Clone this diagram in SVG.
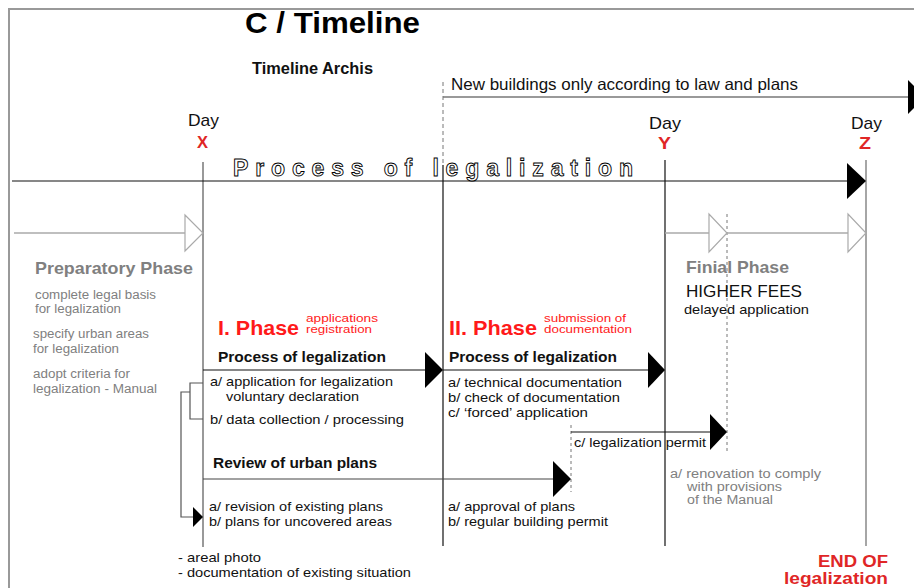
<svg xmlns="http://www.w3.org/2000/svg" width="914" height="588" viewBox="0 0 914 588">
<style>
text{font-family:"Liberation Sans",Arial,sans-serif;}
.b{font-weight:bold;}
.t13{font-size:13px;fill:#111;}
.g12{font-size:12.5px;fill:#808080;}
.gh{font-size:16.5px;font-weight:bold;fill:#808080;}
.red{fill:#ff1a1a;}
.dred{fill:#e02626;}
.h15{font-size:15px;font-weight:bold;fill:#111;}
.day{font-size:17px;fill:#111;}
.sub{font-size:11.5px;}
.ln{stroke:#111;stroke-width:1.2;fill:none;}
.gl{stroke:#777;stroke-width:1.5;fill:none;}
.lg{stroke:#aaa;stroke-width:1.5;fill:none;}
.ds{stroke:#777;stroke-width:1;stroke-dasharray:4,3;fill:none;}
.tri{fill:#000;}
.htri{fill:#fff;stroke:#aaa;stroke-width:1.2;}
</style>
<rect width="914" height="588" fill="#fff"/>
<path d="M9,588 V9 H914" stroke="#999" stroke-width="2" fill="none"/>

<g id="title">
<text x="245" y="33" class="b" font-size="30" textLength="175" lengthAdjust="spacingAndGlyphs" fill="#000">C / Timeline</text>
<text x="252" y="74" class="b" font-size="16" textLength="121" lengthAdjust="spacingAndGlyphs" fill="#111">Timeline Archis</text>
</g>

<g id="connectors">
<line x1="203" y1="162" x2="203" y2="547" stroke="#555" stroke-width="1.2"/>
<line x1="443" y1="82" x2="443" y2="165" class="ds"/>
<line x1="443" y1="165" x2="443" y2="546" class="ln"/>
<line x1="665" y1="160" x2="665" y2="546" class="ln"/>
<line x1="866" y1="160" x2="866" y2="546" stroke="#888" stroke-width="1.5"/>
<line x1="727" y1="214" x2="727" y2="452" stroke="#777" stroke-width="1" stroke-dasharray="3,3"/>
<line x1="571" y1="425" x2="571" y2="492" stroke="#777" stroke-width="1" stroke-dasharray="3,3"/>
<line x1="443" y1="97" x2="908" y2="97" class="gl"/>
<polygon points="908,80 908,114 925,97" class="tri"/>
<line x1="12" y1="181" x2="848" y2="181" class="ln"/>
<polygon points="847,163 847,199 866,181" class="tri"/>
<line x1="14" y1="233" x2="185" y2="233" class="lg"/>
<polygon points="185,215 185,251 203,233" class="htri"/>
<line x1="665" y1="233" x2="710" y2="233" class="lg"/>
<polygon points="709,214 709,252 727,233" class="htri"/>
<line x1="727" y1="233" x2="848" y2="233" class="lg"/>
<polygon points="848,214 848,252 866,233" class="htri"/>
<line x1="203" y1="370" x2="426" y2="370" class="ln"/>
<polygon points="425,352 425,388 443,370" class="tri"/>
<line x1="443" y1="370" x2="649" y2="370" class="ln"/>
<polygon points="648,352 648,388 665,370" class="tri"/>
<line x1="203" y1="479" x2="554" y2="479" stroke="#444" stroke-width="1.2"/>
<polygon points="553,461 553,497 571,479" class="tri"/>
<line x1="571" y1="432" x2="711" y2="432" class="ln"/>
<polygon points="710,414 710,450 727,432" class="tri"/>
<path d="M203,383 H190 V419 H203" stroke="#555" stroke-width="1.2" fill="none"/>
<path d="M190,392 H181 V517 H194" stroke="#555" stroke-width="1.2" fill="none"/>
<polygon points="193,507 193,527 203,517" class="tri"/>
</g>

<g id="day-x">
<text x="188" y="126" class="day" textLength="31" lengthAdjust="spacingAndGlyphs">Day</text>
<text x="197" y="148" class="b dred" font-size="16" textLength="11" lengthAdjust="spacingAndGlyphs">X</text>
</g>
<g id="day-y">
<text x="649" y="129" class="day" textLength="32" lengthAdjust="spacingAndGlyphs">Day</text>
<text x="658" y="149" class="b dred" font-size="16" textLength="13" lengthAdjust="spacingAndGlyphs">Y</text>
</g>
<g id="day-z">
<text x="851" y="129" class="day" textLength="31" lengthAdjust="spacingAndGlyphs">Day</text>
<text x="859" y="149" class="b dred" font-size="16" textLength="12" lengthAdjust="spacingAndGlyphs">Z</text>
</g>

<g id="new-buildings">
<text x="451" y="90" font-size="16.5" fill="#111" textLength="347" lengthAdjust="spacingAndGlyphs">New buildings only according to law and plans</text>
</g>

<g id="process-title">
<text x="233" y="176" font-size="23" font-weight="bold" fill="#fff" stroke="#000" stroke-width="0.9" textLength="400" lengthAdjust="spacing">Process of legalization</text>
</g>

<g id="preparatory-phase">
<text x="35" y="274" class="gh" textLength="158" lengthAdjust="spacingAndGlyphs">Preparatory Phase</text>
<text x="35" y="299" class="g12" textLength="121" lengthAdjust="spacingAndGlyphs">complete legal basis</text>
<text x="35" y="313" class="g12" textLength="86" lengthAdjust="spacingAndGlyphs">for legalization</text>
<text x="33" y="338" class="g12" textLength="116" lengthAdjust="spacingAndGlyphs">specify urban areas</text>
<text x="33" y="353" class="g12" textLength="86" lengthAdjust="spacingAndGlyphs">for legalization</text>
<text x="33" y="378" class="g12" textLength="97" lengthAdjust="spacingAndGlyphs">adopt criteria for</text>
<text x="33" y="393" class="g12" textLength="124" lengthAdjust="spacingAndGlyphs">legalization  - Manual</text>
</g>

<g id="phase-1">
<text x="218" y="335" class="b red" font-size="21" textLength="81" lengthAdjust="spacingAndGlyphs">I. Phase</text>
<text x="306" y="322" class="red sub" textLength="72" lengthAdjust="spacingAndGlyphs">applications</text>
<text x="306" y="333" class="red sub" textLength="66" lengthAdjust="spacingAndGlyphs">registration</text>
<text x="218" y="362" class="h15" textLength="168" lengthAdjust="spacingAndGlyphs">Process of legalization</text>
<text x="210" y="386" class="t13" textLength="183" lengthAdjust="spacingAndGlyphs">a/ application for legalization</text>
<text x="226" y="401" class="t13" textLength="133" lengthAdjust="spacingAndGlyphs">voluntary declaration</text>
<text x="210" y="424" class="t13" textLength="194" lengthAdjust="spacingAndGlyphs">b/ data collection / processing</text>
</g>

<g id="urban-plans">
<text x="213" y="468" class="h15" textLength="164" lengthAdjust="spacingAndGlyphs">Review of urban plans</text>
<text x="209" y="511" class="t13" textLength="174" lengthAdjust="spacingAndGlyphs">a/ revision of existing plans</text>
<text x="209" y="526" class="t13" textLength="183" lengthAdjust="spacingAndGlyphs">b/ plans for uncovered areas</text>
</g>

<g id="data-sources">
<text x="178" y="562" class="t13" textLength="83" lengthAdjust="spacingAndGlyphs">- areal photo</text>
<text x="178" y="577" class="t13" textLength="233" lengthAdjust="spacingAndGlyphs">- documentation of existing situation</text>
</g>

<g id="phase-2">
<text x="449" y="335" class="b red" font-size="21" textLength="88" lengthAdjust="spacingAndGlyphs">II. Phase</text>
<text x="544" y="322" class="red sub" textLength="82" lengthAdjust="spacingAndGlyphs">submission of</text>
<text x="544" y="333" class="red sub" textLength="88" lengthAdjust="spacingAndGlyphs">documentation</text>
<text x="449" y="362" class="h15" textLength="168" lengthAdjust="spacingAndGlyphs">Process of legalization</text>
<text x="448" y="387" class="t13" textLength="174" lengthAdjust="spacingAndGlyphs">a/ technical documentation</text>
<text x="448" y="402" class="t13" textLength="172" lengthAdjust="spacingAndGlyphs">b/ check of documentation</text>
<text x="448" y="417" class="t13" textLength="140" lengthAdjust="spacingAndGlyphs">c/ ‘forced’ application</text>
</g>

<g id="approval">
<text x="448" y="511" class="t13" textLength="127" lengthAdjust="spacingAndGlyphs">a/ approval of plans</text>
<text x="448" y="526" class="t13" textLength="160" lengthAdjust="spacingAndGlyphs">b/ regular building permit</text>
</g>

<g id="legalization-permit">
<text x="574" y="447" class="t13" textLength="132" lengthAdjust="spacingAndGlyphs">c/ legalization permit</text>
</g>

<g id="final-phase">
<text x="686" y="273" class="gh" textLength="103" lengthAdjust="spacingAndGlyphs">Finial Phase</text>
<text x="686" y="297" font-size="16.5" fill="#111" textLength="116" lengthAdjust="spacingAndGlyphs">HIGHER FEES</text>
<text x="684" y="314" class="t13" textLength="125" lengthAdjust="spacingAndGlyphs">delayed application</text>
</g>

<g id="renovation">
<text x="670" y="478" class="g12" font-size="13" textLength="151" lengthAdjust="spacingAndGlyphs">a/ renovation to comply</text>
<text x="687" y="491" class="g12" font-size="13" textLength="95" lengthAdjust="spacingAndGlyphs">with provisions</text>
<text x="687" y="504" class="g12" font-size="13" textLength="86" lengthAdjust="spacingAndGlyphs">of the Manual</text>
</g>

<g id="end">
<text x="818" y="567" class="b dred" font-size="17" textLength="70" lengthAdjust="spacingAndGlyphs">END OF</text>
<text x="784" y="584" class="b dred" font-size="17" textLength="104" lengthAdjust="spacingAndGlyphs">legalization</text>
</g>
</svg>
